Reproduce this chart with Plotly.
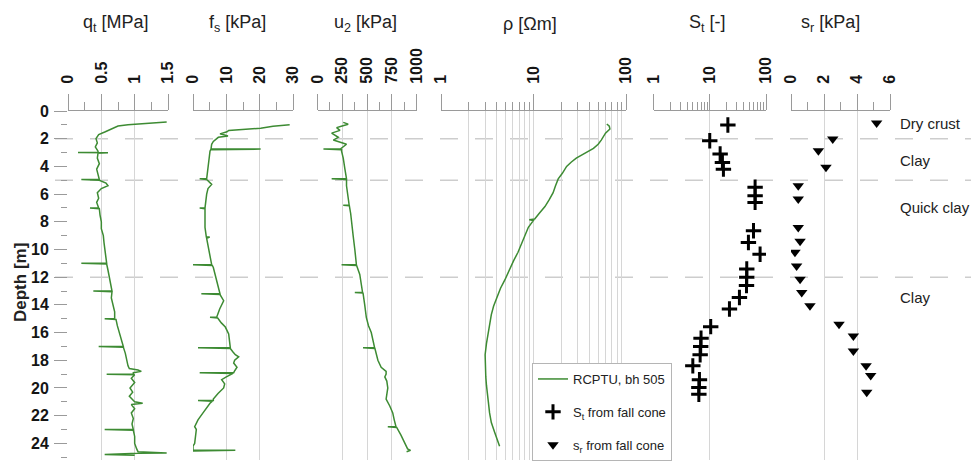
import plotly.graph_objects as go

# ---------------- data ----------------
qt_depth = [0.80, 0.85, 0.92, 1.00, 1.08, 1.15, 1.30, 1.50, 1.70, 2.00, 2.30, 2.60, 2.90, 3.00, 3.00, 3.02, 3.05,
            3.40, 3.80, 4.20, 4.60, 4.95, 4.95, 5.00, 5.20, 5.40, 5.60, 5.90, 6.30, 6.60, 7.00, 7.00, 7.05, 7.50,
            8.00, 8.50, 9.00, 9.50, 10.00, 10.50, 11.00, 11.00, 11.05, 11.50, 12.00, 12.50, 13.00, 13.00, 13.05,
            13.50, 14.00, 14.50, 15.00, 15.00, 15.05, 15.50, 16.00, 16.50, 17.00, 17.00, 17.05, 17.50, 18.00,
            18.40, 18.60, 18.70, 18.80, 18.90, 19.00, 19.00, 19.05, 19.30, 19.60, 20.00, 20.30, 20.60, 21.00,
            21.10, 21.20, 21.50, 21.80, 22.20, 22.60, 23.00, 23.00, 23.05, 23.50, 24.00, 24.40, 24.60, 24.70,
            24.72, 24.80, 24.85]
qt_vals = [1.48, 1.30, 1.10, 0.90, 0.75, 0.72, 0.66, 0.56, 0.46, 0.42, 0.44, 0.41, 0.45, 0.45, 0.15, 0.60, 0.45,
           0.44, 0.47, 0.43, 0.45, 0.47, 0.20, 0.47, 0.57, 0.60, 0.50, 0.44, 0.46, 0.43, 0.46, 0.33, 0.47, 0.48,
           0.50, 0.50, 0.53, 0.54, 0.55, 0.57, 0.58, 0.20, 0.58, 0.60, 0.62, 0.64, 0.66, 0.38, 0.66,
           0.65, 0.68, 0.70, 0.70, 0.55, 0.72, 0.74, 0.77, 0.80, 0.83, 0.46, 0.83, 0.86, 0.88,
           0.90, 0.92, 1.05, 1.10, 0.98, 0.98, 0.58, 1.00, 0.95, 1.00, 0.93, 0.97, 0.92, 1.00,
           1.12, 0.95, 1.00, 0.95, 0.98, 0.96, 0.98, 0.55, 0.98, 1.00, 1.00, 1.03, 1.05, 1.48,
           1.05, 0.55, 1.00]

fs_depth = [1.00, 1.10, 1.25, 1.35, 1.40, 1.50, 1.65, 1.80, 1.90, 2.20, 2.40, 2.75, 2.75, 2.80, 2.90, 3.40, 3.90,
            4.90, 4.90, 4.95, 5.30, 5.60, 6.00, 6.50, 7.00, 7.00, 7.05, 7.50, 8.00, 8.40, 9.10, 9.10, 9.20, 9.80,
            10.30, 11.10, 11.10, 11.15, 11.30, 11.80, 12.20, 12.70, 13.20, 13.20, 13.25, 13.70, 14.30, 14.90,
            14.90, 14.95, 15.30, 15.60, 16.10, 16.60, 17.10, 17.10, 17.15, 17.40, 17.60, 17.75, 18.00, 18.20,
            18.50, 18.80, 18.90, 18.90, 18.95, 19.20, 19.40, 19.70, 20.00, 20.40, 20.80, 20.90, 20.90, 20.95,
            21.10, 21.50, 21.80, 22.30, 22.80, 23.00, 23.50, 24.00, 24.20, 24.50, 24.50, 24.55]
fs_vals = [29.0, 24.0, 20.3, 13.0, 10.7, 10.2, 8.1, 10.5, 7.6, 6.1, 5.6, 5.4, 20.3, 5.3, 5.1, 4.8, 4.6,
           4.1, 2.0, 4.1, 5.6, 4.5, 4.1, 3.8, 3.6, 2.0, 3.6, 3.6, 3.5, 3.6, 4.0, 5.0, 4.1, 4.6,
           5.1, 5.6, 0.0, 5.8, 6.1, 6.6, 7.1, 7.6, 8.1, 2.5, 8.1, 9.2, 8.0, 7.1,
           5.1, 7.4, 8.5, 9.7, 10.7, 11.0, 11.2, 1.5, 11.2, 12.0, 12.7, 13.7, 12.5, 12.2,
           13.2, 12.4, 12.2, 2.0, 12.0, 10.0, 8.6, 9.5, 9.2, 7.5, 6.1, 6.1, 1.5, 5.8,
           5.1, 4.0, 3.0, 1.5, 0.5, 1.0, 0.7, 0.5, 0.0, 0.0, 12.7, 0.0]

u2_depth = [0.82, 0.95, 1.10, 1.20, 1.40, 1.60, 1.90, 2.10, 2.40, 2.60, 2.75, 2.75, 2.80, 2.90, 3.40, 4.20, 4.90,
            4.90, 4.95, 5.40, 6.30, 6.80, 6.80, 6.85, 7.40, 8.10, 9.00, 10.00, 11.10, 11.10, 11.15, 11.80, 12.50,
            13.10, 13.10, 13.15, 14.00, 14.90, 15.50, 16.00, 17.10, 17.10, 17.15, 18.00, 18.50, 18.80, 19.00,
            19.20, 19.50, 20.00, 20.40, 20.80, 21.30, 21.80, 22.30, 22.80, 22.80, 22.85, 23.40, 24.10, 24.40,
            24.50, 24.60]
u2_vals = [260, 310, 240, 193, 227, 143, 210, 160, 293, 250, 230, 60, 243, 243, 260, 277, 293,
           143, 293, 293, 310, 320, 260, 322, 335, 343, 360, 377, 393, 243, 395, 427, 440,
           455, 377, 460, 477, 493, 515, 543, 577, 460, 580, 610, 643, 693, 693,
           680, 700, 710, 700, 693, 730, 760, 775, 793, 710, 800, 843, 893, 910,
           940, 900]

rho_depth = [0.94, 1.10, 1.30, 1.60, 2.10, 2.40, 2.70, 3.00, 3.40, 3.70, 4.00, 4.50, 4.90, 5.40, 5.90, 6.40, 6.90,
             7.40, 7.80, 7.85, 7.90, 8.40, 9.00, 9.60, 10.20, 10.80, 11.50, 12.20, 12.80, 13.50, 14.10, 14.70,
             15.40, 16.10, 16.80, 17.60, 18.60, 19.20, 19.80, 20.40, 21.00, 21.80, 22.50, 23.20, 23.80, 24.20]
rho_vals = [62, 66, 67, 60, 54, 50, 44.5, 37, 29, 25.5, 22.8, 20.5, 18.5, 17.3, 16.3, 14.8, 13.3,
            11.5, 10.3, 9.0, 10.0, 8.8, 8.1, 7.5, 6.8, 6.1, 5.5, 4.9, 4.4, 4.0, 3.7, 3.5,
            3.35, 3.25, 3.1, 3.0, 3.0, 3.05, 3.1, 3.2, 3.25, 3.35, 3.5, 3.8, 4.1, 4.3]

st_depth = [1.01, 2.15, 3.11, 3.71, 4.20, 5.50, 6.12, 6.60, 8.65, 9.50, 10.34, 11.40, 12.00, 12.60, 13.47,
            14.30, 15.57, 16.40, 17.00, 17.60, 18.40, 19.40, 19.97, 20.45]
st_vals = [21, 10, 15.3, 16.8, 17.5, 64, 64, 64, 60, 48.7, 78.5, 45.5, 45.5, 45, 33.7,
           22.4, 10.4, 7.0, 6.9, 6.75, 5.0, 6.56, 6.4, 6.4]

sr_depth = [0.87, 2.02, 2.87, 4.07, 5.40, 6.36, 8.41, 9.40, 10.20, 11.20, 12.15, 13.10, 14.07, 15.40, 16.25,
            17.33, 18.40, 19.10, 20.30]
sr_vals = [5.19, 2.53, 1.66, 2.12, 0.44, 0.44, 0.44, 0.55, 0.24, 0.34, 0.55, 0.65, 1.15, 2.91, 3.78,
           3.78, 4.55, 4.83, 4.59]

layer_depths = [2, 5, 12]
layer_labels = ["Dry crust", "Clay", "Quick clay", "Clay"]
layer_label_depths = [0.87, 3.55, 6.95, 13.5]

titles = ["q<sub>t</sub> [MPa]", "f<sub>s</sub> [kPa]", "u<sub>2</sub> [kPa]", "ρ [Ωm]",
          "S<sub>t</sub> [-]", "s<sub>r</sub> [kPa]"]
legend_names = ["RCPTU, bh 505", "S<sub>t</sub> from fall cone", "s<sub>r</sub> from fall cone"]

qt_ticks = [0, 0.5, 1, 1.5]
qt_ticktext = ["0", "0.5", "1", "1.5"]
fs_ticks = [0, 10, 20, 30]
u2_ticks = [0, 250, 500, 750, 1000]
log_ticks = [1, 10, 100]
log_minor_vals = [2, 3, 4, 5, 6, 7, 8, 9, 20, 30, 40, 50, 60, 70, 80, 90]
sr_ticks = [0, 2, 4, 6]
depth_ticks = [0, 2, 4, 6, 8, 10, 12, 14, 16, 18, 20, 22, 24]

# ---------------- layout helpers ----------------
OFF = 8                      # page body margin
W, H = 979 - OFF, 463 - OFF  # figure size so it fits in the window
FONT = "Liberation Sans, Arial, sans-serif"
GREEN = "#3d8b33"
AXC = "#9a9a9a"
GRID = "#d6d6d6"
TXT = "#222222"
TICKTXT = "#151515"

def px_x(p):
    return (p - OFF) / W

def px_y(p):
    return 1 - (p - OFF) / H

def bold(vals):
    return ["<b>%s</b>" % v for v in vals]

panels = [(68, 168), (193, 293), (317.5, 416.5), (441, 626), (653.5, 766), (791, 890)]
title_cx = [116, 237, 365, 530, 707, 830]
y_top_px, y_bot_px = 111, 460

fig = go.Figure()

fig.add_trace(go.Scatter(x=qt_vals, y=qt_depth, mode="lines", line=dict(color=GREEN, width=1.5),
                         name=legend_names[0], legendgroup="a", showlegend=True, xaxis="x", yaxis="y"))
fig.add_trace(go.Scatter(x=fs_vals, y=fs_depth, mode="lines", line=dict(color=GREEN, width=1.5),
                         showlegend=False, xaxis="x2", yaxis="y"))
fig.add_trace(go.Scatter(x=u2_vals, y=u2_depth, mode="lines", line=dict(color=GREEN, width=1.5),
                         showlegend=False, xaxis="x3", yaxis="y"))
fig.add_trace(go.Scatter(x=rho_vals, y=rho_depth, mode="lines", line=dict(color=GREEN, width=1.5),
                         showlegend=False, xaxis="x4", yaxis="y"))
fig.add_trace(go.Scatter(x=st_vals, y=st_depth, mode="markers",
                         marker=dict(symbol="cross-thin", size=11, line=dict(width=3, color="black"), color="black"),
                         name=legend_names[1], legendgroup="b", xaxis="x5", yaxis="y"))
fig.add_trace(go.Scatter(x=sr_vals, y=sr_depth, mode="markers",
                         marker=dict(symbol="triangle-down", size=10, color="black"),
                         name=legend_names[2], legendgroup="c", xaxis="x6", yaxis="y"))

tickfont = dict(family=FONT, size=16, color=TICKTXT, weight="bold")

def xaxis_common(i, **kw):
    l, r = panels[i]
    d = dict(domain=[px_x(l), px_x(r)], anchor="y", side="top", showline=True, linecolor=AXC, linewidth=1,
             ticks="outside", ticklen=16, tickcolor=AXC, tickwidth=1, tickangle=-90, tickfont=tickfont,
             showgrid=True, gridcolor=GRID, gridwidth=1, zeroline=False, ticklabelstandoff=7,
             automargin=False, tickmode="array")
    d.update(kw)
    return d

minor_lin = lambda dt: dict(dtick=dt, ticks="outside", ticklen=8, tickcolor=AXC, showgrid=False)

fig.update_layout(
    width=W, height=H,
    margin=dict(l=0, r=0, t=0, b=0),
    paper_bgcolor="white", plot_bgcolor="white",
    xaxis=xaxis_common(0, range=[0, 1.5], tickvals=qt_ticks, ticktext=bold(qt_ticktext), minor=minor_lin(0.25)),
    xaxis2=xaxis_common(1, range=[0, 30], tickvals=fs_ticks, ticktext=bold(fs_ticks), minor=minor_lin(5)),
    xaxis3=xaxis_common(2, range=[0, 1000], tickvals=u2_ticks, ticktext=bold(u2_ticks), minor=minor_lin(125)),
    xaxis4=xaxis_common(3, type="log", range=[0, 2], tickvals=log_ticks, ticktext=bold(log_ticks),
                        minor=dict(tickmode="array", tickvals=log_minor_vals, ticks="outside", ticklen=8,
                                   tickcolor=AXC, showgrid=True, gridcolor=GRID)),
    xaxis5=xaxis_common(4, type="log", range=[0, 2], tickvals=log_ticks, ticktext=bold(log_ticks),
                        minor=dict(tickmode="array", tickvals=log_minor_vals, ticks="outside", ticklen=8,
                                   tickcolor=AXC, showgrid=False)),
    xaxis6=xaxis_common(5, range=[0, 6], tickvals=sr_ticks, ticktext=bold(sr_ticks), minor=minor_lin(1)),
    yaxis=dict(domain=[px_y(y_bot_px), px_y(y_top_px)], range=[25.2, 0], anchor="x",
               tickmode="array", tickvals=depth_ticks, ticktext=bold(depth_ticks), ticks="outside", ticklen=13,
               tickcolor=AXC, tickfont=tickfont, showgrid=False, zeroline=False, showline=False,
               minor=dict(dtick=1, ticks="outside", ticklen=6, tickcolor=AXC, showgrid=False),
               automargin=False, ticklabelstandoff=2),
    showlegend=True,
    legend=dict(x=px_x(532), y=px_y(363), xanchor="left", yanchor="top", bgcolor="white",
                bordercolor="#b5b5b5", borderwidth=1, font=dict(family=FONT, size=13, color=TXT),
                tracegroupgap=13, itemwidth=30),
)

# dashed layer boundaries
for d in layer_depths:
    fig.add_shape(type="line", xref="paper", yref="y", x0=px_x(55), x1=1, y0=d, y1=d,
                  line=dict(color="#cdcdcd", width=1.5, dash="18px,17px"), layer="below")

# panel titles
for t, cx in zip(titles, title_cx):
    fig.add_annotation(text=t, xref="paper", yref="paper", x=px_x(cx), y=px_y(24), showarrow=False,
                       xanchor="center", yanchor="middle", font=dict(family=FONT, size=18, color=TXT))

# layer labels
for lab, d in zip(layer_labels, layer_label_depths):
    fig.add_annotation(text=lab, xref="paper", yref="y", x=px_x(898), y=d, showarrow=False,
                       xanchor="left", yanchor="middle", font=dict(family=FONT, size=15, color=TXT))

# y axis title
fig.add_annotation(text="<b>Depth [m]</b>", xref="paper", yref="paper", x=px_x(20), y=px_y(283),
                   showarrow=False, textangle=-90, xanchor="center", yanchor="middle",
                   font=dict(family=FONT, size=17, color=TXT))

fig.write_html("out.html")
